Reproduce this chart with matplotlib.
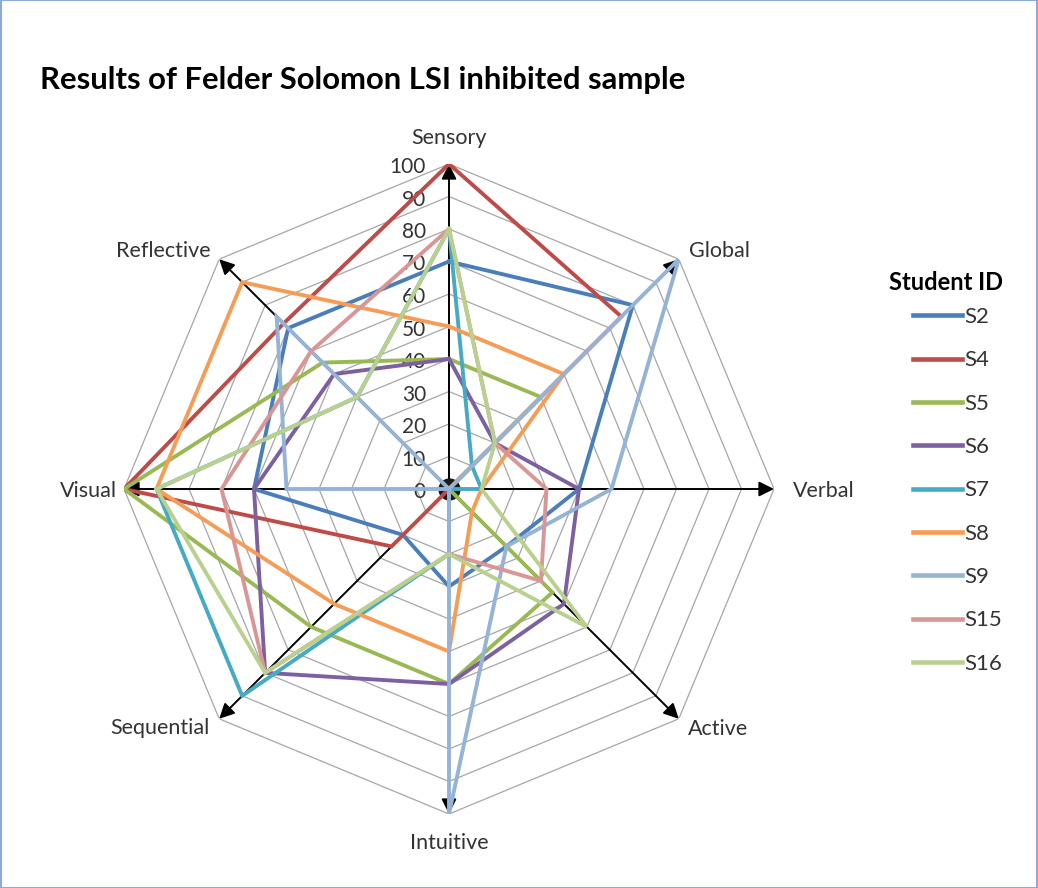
import numpy as np
import matplotlib
matplotlib.use("Agg")
import matplotlib.pyplot as plt
from matplotlib.lines import Line2D
from matplotlib.patches import Rectangle

plt.rcParams['font.family'] = ['Lato', 'DejaVu Sans']

# Learning-style dimensions, clockwise from the top
dimensions = ["Sensory", "Global", "Verbal", "Active",
              "Intuitive", "Sequential", "Visual", "Reflective"]

# Scores (%) per student, in the order of `dimensions`
s2 = [70, 80, 40, 25, 30, 20, 60, 70]
s4 = [100, 75, 0, 0, 0, 25, 100, 72]
s5 = [40, 40, 0, 45, 60, 60, 100, 55]
s6 = [40, 20, 40, 50, 60, 80, 60, 50]
s7 = [80, 10, 10, 0, 20, 90, 90, 40]
s8 = [50, 50, 10, 10, 50, 50, 90, 90]
s9 = [0, 100, 50, 25, 100, 0, 50, 75]
s15 = [80, 20, 30, 40, 20, 80, 70, 60]
s16 = [80, 20, 10, 60, 20, 80, 90, 40]

students = ["S2", "S4", "S5", "S6", "S7", "S8", "S9", "S15", "S16"]
scores = [s2, s4, s5, s6, s7, s8, s9, s15, s16]
colors = ["#4A7EBB", "#BE4B48", "#98B954", "#7D60A0", "#46AAC5",
          "#F59D56", "#95B3D7", "#D99694", "#B9D08F"]

ticks = list(range(0, 101, 10))

W, H = 1038, 888
fig = plt.figure(figsize=(W / 100, H / 100), dpi=100)
fig.patch.set_facecolor("white")

cx, cy, R = 449, 489, 325
ax = fig.add_axes([(cx - R) / W, (H - cy - R) / H, 2 * R / W, 2 * R / H],
                  projection="polar")
ax.set_theta_zero_location("N")
ax.set_theta_direction(-1)
ax.set_ylim(0, 100)
ax.grid(False)
ax.set_xticks([])
ax.set_yticks([])
ax.spines["polar"].set_visible(False)
ax.patch.set_alpha(0)

n = len(dimensions)
theta = np.arange(n) * 2 * np.pi / n
theta_c = np.append(theta, theta[0])

text_col = "#333333"

# octagonal grid rings
for r in ticks[1:]:
    ax.plot(theta_c, [r] * (n + 1), color="#A6A6A6", lw=0.9, zorder=1)

# axis arrows
for th in theta:
    ax.annotate("", xy=(th, 100), xytext=(th, 0),
                arrowprops=dict(arrowstyle="-|>,head_length=0.6,head_width=0.3",
                                color="black", lw=1.4, mutation_scale=15,
                                shrinkA=0, shrinkB=0), zorder=2)
ax.plot([0], [0], marker="o", ms=15, color="#1a1a1a", zorder=2)

# radial tick labels along the Sensory axis
for t in ticks:
    ax.annotate(str(t), xy=(0, t), xytext=(-23, -3), textcoords="offset pixels",
                ha="right", va="center", fontsize=15, color=text_col, zorder=3)

# dimension labels
offsets = [(0, 26), (41, 8), (50, -2), (39, -10),
           (0, -29), (-59, -9), (-36, -2), (-56, 8)]
for th, name, off in zip(theta, dimensions, offsets):
    ax.annotate(name, xy=(th, 100), xytext=off, textcoords="offset pixels",
                ha="center", va="center", fontsize=15.5, color=text_col)

# student profiles
handles = []
for name, vals, col in zip(students, scores, colors):
    v = np.append(vals, vals[0])
    ax.plot(theta_c, v, color=col, lw=2.8, solid_joinstyle="miter", zorder=4)
    handles.append(Line2D([], [], color=col, lw=3.3))

fig.text(40 / W, 1 - 80 / H, "Results of Felder Solomon LSI inhibited sample",
         fontsize=22.3, fontweight="bold", ha="left", va="center")

fig.text(946 / W, 1 - 283 / H, "Student ID", fontsize=17, fontweight="bold",
         ha="center", va="center")
leg = fig.legend(handles, students, loc="upper left",
                 bbox_to_anchor=(913 / W, 1 - 307 / H),
                 bbox_transform=fig.transFigure, frameon=False,
                 fontsize=16, handlelength=2.2, handletextpad=0.13,
                 labelspacing=1.05, borderpad=0, borderaxespad=0)
for t in leg.get_texts():
    t.set_color(text_col)

fig.patches.append(Rectangle((0.0005, 0.0005), 0.999, 0.999, transform=fig.transFigure,
                             fill=False, edgecolor="#8EAADB", lw=1.5))

fig.savefig("out.png", dpi=100)
